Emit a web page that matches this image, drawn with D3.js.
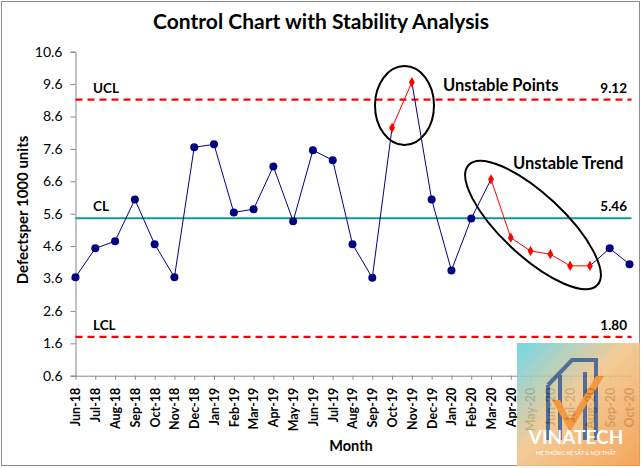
<!DOCTYPE html>
<html lang="en">
<head>
<meta charset="UTF-8">
<title>Control Chart with Stability Analysis</title>
<script src="https://d3js.org/d3.v7.min.js"></script>
<style>
    body { margin: 0; background: #fff; font-family: Lato, "Open Sans", Arial, sans-serif; }
    svg { display: block; }
    .tick text { font-family: Lato, Arial, sans-serif; }
</style>
</head>
<body>
<svg width="642" height="468"></svg>
<script>
// data
const months = ["Jun-18","Jul-18","Aug-18","Sep-18","Oct-18","Nov-18","Dec-18","Jan-19","Feb-19","Mar-19",
    "Apr-19","May-19","Jun-19","Jul-19","Aug-19","Sep-19","Oct-19","Nov-19","Dec-19","Jan-20",
    "Feb-20","Mar-20","Apr-20","May-20","Jun-20","Jul-20","Aug-20","Sep-20","Oct-20"];
const defects = [3.64,4.53,4.75,6.04,4.66,3.64,7.65,7.74,5.64,5.74,
    7.06,5.37,7.56,7.25,4.66,3.62,8.25,9.66,6.04,3.85,
    5.45,6.66,4.86,4.45,4.35,3.99,3.99,4.53,4.04];
// indices of unstable points
const unstable = [16,17,21,22,23,24,25,26];
const yTicks = [0.6,1.6,2.6,3.6,4.6,5.6,6.6,7.6,8.6,9.6,10.6];
const limits = [
    { name: "UCL", value: 9.12 },
    { name: "CL", value: 5.46 },
    { name: "LCL", value: 1.80 }
];

const svg = d3.select("svg");
const plotLeft = 75.5, plotRight = 629.5, plotTop = 51.7, plotBottom = 375.7;

// chart frame
svg.append("rect")
    .attr("x", 1.5).attr("y", 1.5)
    .attr("width", 638).attr("height", 464)
    .attr("fill", "#fff").attr("stroke", "#8c8c8c").attr("stroke-width", 1);

const x = d3.scalePoint().domain(months).range([plotLeft, plotRight]);
const y = d3.scaleLinear().domain([0.6, 10.6]).range([plotBottom, plotTop]);

// title
svg.append("text")
    .attr("x", 321).attr("y", 29)
    .attr("text-anchor", "middle")
    .style("font-size", "21px").style("font-weight", "bold")
    .text("Control Chart with Stability Analysis");

// y axis
const yAxis = svg.append("g")
    .attr("transform", `translate(${plotLeft},0)`)
    .call(d3.axisLeft(y).tickValues(yTicks).tickFormat(d3.format(".1f")).tickSize(5).tickPadding(8));
yAxis.select(".domain").attr("stroke", "#868686");
yAxis.selectAll(".tick line").attr("stroke", "#868686");
yAxis.selectAll(".tick text").style("font-size", "14px").attr("fill", "#000");

// x axis
const xAxis = svg.append("g")
    .attr("transform", `translate(0,${plotBottom})`)
    .call(d3.axisBottom(x).tickSize(4).tickSizeOuter(0));
xAxis.select(".domain").attr("stroke", "#868686");
xAxis.selectAll(".tick line").attr("stroke", "#868686");
xAxis.selectAll(".tick text")
    .style("font-size", "12.5px").style("font-weight", "bold").attr("fill", "#000")
    .attr("text-anchor", "end")
    .attr("dy", "0.35em")
    .attr("transform", "translate(0,12) rotate(-90)")
    .attr("x", 0).attr("y", 0);

// axis titles
svg.append("text")
    .attr("transform", `translate(28,210) rotate(-90)`)
    .attr("text-anchor", "middle")
    .style("font-size", "15px").style("font-weight", "bold")
    .text("Defectsper 1000 units");
svg.append("text")
    .attr("x", 351).attr("y", 451)
    .attr("text-anchor", "middle")
    .style("font-size", "14.5px").style("font-weight", "bold")
    .text("Month");

// control limit lines
limits.forEach(l => {
    const yy = y(l.value);
    svg.append("line")
        .attr("x1", plotLeft).attr("x2", plotRight + 2)
        .attr("y1", yy).attr("y2", yy)
        .attr("stroke", l.name === "CL" ? "#0e9a9a" : "#ff0000")
        .attr("stroke-width", 2.2)
        .attr("stroke-dasharray", l.name === "CL" ? null : "7,5");
    svg.append("text")
        .attr("x", 93).attr("y", yy - 7)
        .style("font-size", "13.5px").style("font-weight", "bold")
        .text(l.name);
    svg.append("text")
        .attr("x", 627).attr("y", yy - 7)
        .attr("text-anchor", "end")
        .style("font-size", "13.5px").style("font-weight", "bold")
        .text(l.value.toFixed(2));
});

// series line, segment by segment
const segs = d3.range(months.length - 1).map(i => ({
    a: i, b: i + 1,
    red: unstable.includes(i) && unstable.includes(i + 1)
}));
svg.append("g").selectAll("line")
    .data(segs)
    .join("line")
    .attr("x1", d => x(months[d.a])).attr("y1", d => y(defects[d.a]))
    .attr("x2", d => x(months[d.b])).attr("y2", d => y(defects[d.b]))
    .attr("stroke", d => d.red ? "#ff0000" : "#000080")
    .attr("stroke-width", 1);

// markers
const pts = months.map((m, i) => ({ m, v: defects[i], red: unstable.includes(i) }));
svg.append("g").selectAll("circle")
    .data(pts.filter(d => !d.red))
    .join("circle")
    .attr("cx", d => x(d.m)).attr("cy", d => y(d.v))
    .attr("r", 4).attr("fill", "#000080");
svg.append("g").selectAll("path")
    .data(pts.filter(d => d.red))
    .join("path")
    .attr("d", d3.symbol(d3.symbolDiamond, 30))
    .attr("transform", d => `translate(${x(d.m)},${y(d.v)})`)
    .attr("fill", "#ff0000");

// annotations
svg.append("ellipse")
    .attr("cx", 404.5).attr("cy", 105.5).attr("rx", 29.5).attr("ry", 39.5)
    .attr("fill", "none").attr("stroke", "#000").attr("stroke-width", 2);
svg.append("ellipse")
    .attr("cx", 0).attr("cy", 0).attr("rx", 88).attr("ry", 31)
    .attr("transform", "translate(533,225) rotate(43)")
    .attr("fill", "none").attr("stroke", "#000").attr("stroke-width", 2);
svg.append("text")
    .attr("x", 443).attr("y", 91)
    .style("font-size", "16.5px").style("font-weight", "bold")
    .text("Unstable Points");
svg.append("text")
    .attr("x", 513).attr("y", 169)
    .style("font-size", "16.5px").style("font-weight", "bold")
    .text("Unstable Trend");

// watermark badge in the corner
const defs = svg.append("defs");
const grad = defs.append("linearGradient").attr("id", "wm")
    .attr("x1", "0%").attr("y1", "0%").attr("x2", "100%").attr("y2", "100%");
grad.append("stop").attr("offset", "0%").attr("stop-color", "#5fd3e6");
grad.append("stop").attr("offset", "45%").attr("stop-color", "#f2c48a");
grad.append("stop").attr("offset", "100%").attr("stop-color", "#f39a45");
const wm = svg.append("g").attr("opacity", 0.88);
wm.append("rect").attr("x", 517).attr("y", 343).attr("width", 123).attr("height", 123).attr("fill", "url(#wm)");
wm.append("path")
    .attr("d", "M548,385 L572,360 L596,360 L596,440 M560,375 L560,440 M548,385 L548,440 M585,372 L585,440")
    .attr("fill", "none").attr("stroke", "#3a5a8a").attr("stroke-width", 4);
wm.append("path")
    .attr("d", "M552,400 L570,432 L604,376 L596,376 L570,420 L560,400 Z")
    .attr("fill", "#f08a2a");
wm.append("text").attr("x", 576).attr("y", 444).attr("text-anchor", "middle")
    .style("font-size", "19px").style("font-weight", "bold").attr("fill", "#fff")
    .text("VINATECH");
wm.append("text").attr("x", 576).attr("y", 455).attr("text-anchor", "middle")
    .style("font-size", "5.5px").attr("fill", "#fff")
    .text("HỆ THỐNG KỆ SẮT & NỘI THẤT");
</script>
</body>
</html>
